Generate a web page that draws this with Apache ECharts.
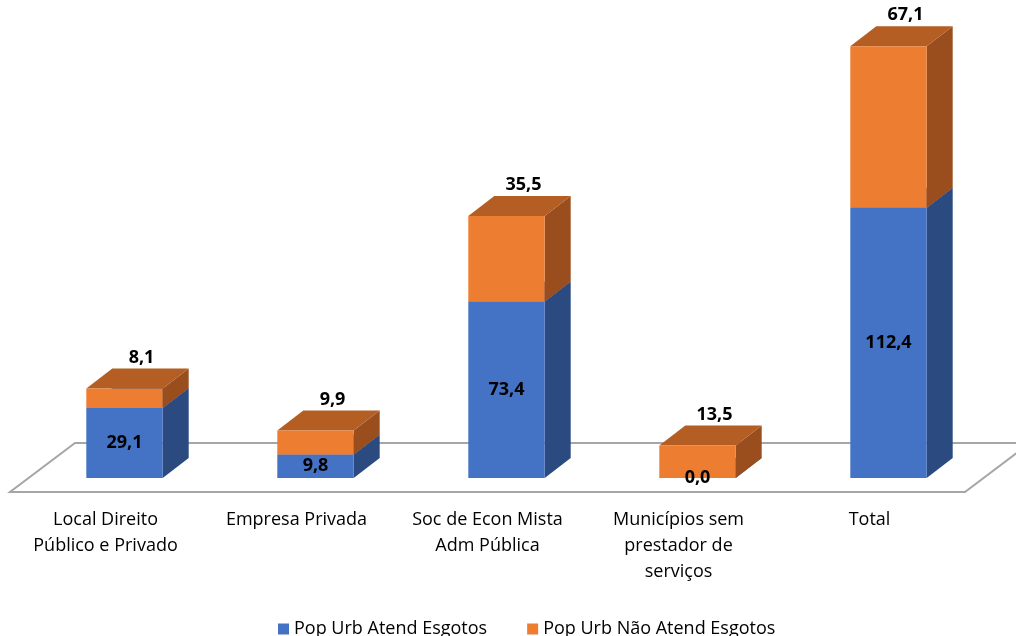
<!DOCTYPE html>
<html>
<head>
<meta charset="utf-8">
<script src="https://cdn.jsdelivr.net/npm/echarts@6/dist/echarts.min.js"></script>
<style>
  html, body { margin: 0; padding: 0; background: #fff; }
  #chart { width: 1016px; height: 636px; }
</style>
</head>
<body>
<div id="chart"></div>
<script>
// dados
const categorias = [
  'Local Direito\nPúblico e Privado',
  'Empresa Privada',
  'Soc de Econ Mista\nAdm Pública',
  'Municípios sem\nprestador de\nserviços',
  'Total'
]
const atendidos = [29.1, 9.8, 73.4, 0.0, 112.4]
const naoAtendidos = [8.1, 9.9, 35.5, 13.5, 67.1]
const nomesSeries = ['Pop Urb Atend Esgotos', 'Pop Urb Não Atend Esgotos']

// projeção 3d (pixels)
const GAP_DX = 19
const GAP_DY = -14
const DEP_DX = 26
const DEP_DY = -20
const FONT = '"Open Sans", sans-serif'

const fmt = v => v.toFixed(1).replace('.', ',')

function bar3d (cores, labelTopo) {
  return function (params, api) {
    const i = api.value(0)
    const v0 = api.value(1)
    const v1 = api.value(2)
    const p0 = api.coord([i, v0])
    const p1 = api.coord([i, v1])
    const bw = api.size([1, 0])[0] * 0.4
    const x0 = p0[0] - bw / 2 + GAP_DX
    const x1 = x0 + bw
    const yb = p0[1] + GAP_DY
    const yt = p1[1] + GAP_DY
    const children = [
      {
        type: 'polygon',
        shape: { points: [[x1, yb], [x1 + DEP_DX, yb + DEP_DY], [x1 + DEP_DX, yt + DEP_DY], [x1, yt]] },
        style: { fill: cores.side }
      },
      {
        type: 'polygon',
        shape: { points: [[x0, yt], [x1, yt], [x1 + DEP_DX, yt + DEP_DY], [x0 + DEP_DX, yt + DEP_DY]] },
        style: { fill: cores.top }
      },
      {
        type: 'rect',
        shape: { x: x0, y: yt, width: bw, height: yb - yt },
        style: { fill: cores.front }
      }
    ]
    const val = v1 - v0
    // rótulo: laranja acima do topo, azul no meio da face
    children.push({
      type: 'text',
      z2: 100,
      style: {
        text: fmt(val),
        x: labelTopo ? x0 + bw / 2 + 17 : x0 + bw / 2,
        y: labelTopo ? yt + DEP_DY - 11 : (yt + yb) / 2,
        align: 'center',
        verticalAlign: 'middle',
        font: 'bold 18px ' + FONT,
        fill: '#000'
      }
    })
    return { type: 'group', children: children }
  }
}

const dadosAzul = atendidos.map((v, i) => [i, 0, v])
const dadosLaranja = naoAtendidos.map((v, i) => [i, atendidos[i], atendidos[i] + v])

const chart = echarts.init(document.getElementById('chart'))
chart.setOption({
  animation: false,
  backgroundColor: '#ffffff',
  textStyle: { fontFamily: FONT },
  grid: { left: 10, right: 51, top: 11, bottom: 144 },
  legend: {
    top: 615,
    left: 273,
    icon: 'rect',
    itemWidth: 11,
    itemHeight: 11,
    itemGap: 40,
    textStyle: { fontSize: 18, color: '#000', fontFamily: FONT },
    data: nomesSeries
  },
  graphic: [{
    type: 'polygon',
    z: 0,
    silent: true,
    shape: { points: [[10, 492], [965, 492], [965 + 65, 492 - 49], [10 + 65, 492 - 49]] },
    style: { fill: '#fff', stroke: '#a6a6a6', lineWidth: 2 }
  }],
  xAxis: {
    type: 'category',
    data: categorias,
    axisLine: { lineStyle: { color: '#a6a6a6', width: 2 } },
    axisTick: { length: 6, lineStyle: { color: '#a6a6a6', width: 1.5 } },
    axisLabel: { fontSize: 18, color: '#000', lineHeight: 26, margin: 15, interval: 0, fontFamily: FONT }
  },
  yAxis: { type: 'value', min: 0, max: 200, show: false },
  series: [
    {
      name: nomesSeries[0],
      type: 'custom',
      itemStyle: { color: '#4472c4' },
      renderItem: bar3d({ front: '#4472c4', side: '#2b4a80', top: '#345a9c' }, false),
      encode: { x: 0, y: [1, 2] },
      data: dadosAzul
    },
    {
      name: nomesSeries[1],
      type: 'custom',
      itemStyle: { color: '#ed7d31' },
      renderItem: bar3d({ front: '#ed7d31', side: '#9a4e1d', top: '#b45e23' }, true),
      encode: { x: 0, y: [1, 2] },
      data: dadosLaranja
    }
  ]
})
</script>
</body>
</html>
